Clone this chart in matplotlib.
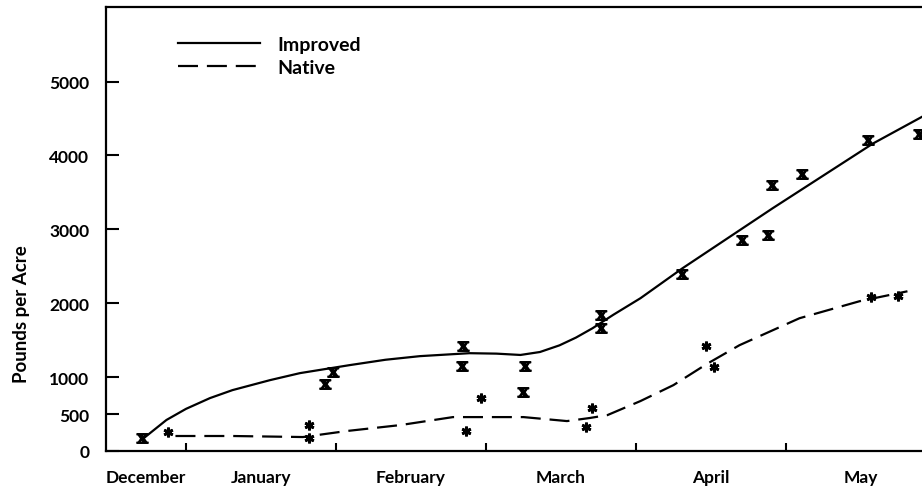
import matplotlib
matplotlib.use("Agg")
import matplotlib.pyplot as plt
from matplotlib.lines import Line2D

plt.rcParams['font.family'] = ['Lato', 'DejaVu Sans']
plt.rcParams['font.weight'] = 'bold'
plt.rcParams['mathtext.fontset'] = 'dejavuserif'

# Month axis: 1 = Jan 1, 2 = Feb 1, ... (December partly visible)
month_labels = ["December", "January", "February", "March", "April", "May"]
month_label_pos = [0.733, 1.5, 2.5, 3.5, 4.5, 5.5]
month_bounds = [1, 2, 3, 4, 5]

# Improved pasture observations (x markers)
improved_m = [0.71, 1.93, 1.98, 2.85, 2.84, 3.26, 3.25, 3.77, 3.77, 4.31, 4.71, 4.88, 4.91, 5.11, 5.55, 5.89]
improved_v = [176, 905, 1067, 1418, 1148, 1148, 797, 1837, 1662, 2391, 2851, 2918, 3594, 3756, 4215, 4296]

# Native pasture observations (asterisks)
native_m = [0.88, 1.82, 1.82, 2.97, 2.87, 3.71, 3.67, 4.47, 4.52, 5.57, 5.75]
native_v = [257, 351, 176, 716, 270, 581, 324, 1418, 1135, 2080, 2094]

# Fitted curves
improved_curve_m = [0.72, 0.79, 0.87, 1.0, 1.16, 1.31, 1.56, 1.76, 2.09, 2.33, 2.56, 2.89, 3.07, 3.23,
                    3.36, 3.49, 3.6, 3.71, 3.85, 4.03, 4.31, 4.91, 5.58, 5.91]
improved_curve_v = [176, 290, 420, 570, 716, 824, 959, 1054, 1162, 1235, 1284, 1324, 1318, 1300,
                    1340, 1430, 1535, 1661, 1845, 2068, 2473, 3284, 4162, 4527]

native_curve_m = [0.93, 1.31, 1.78, 2.07, 2.43, 2.78, 2.98, 3.25, 3.54, 3.69, 3.81, 4.03, 4.25, 4.47,
                  4.69, 5.09, 5.49, 5.81]
native_curve_v = [203, 203, 189, 270, 351, 459, 459, 459, 405, 446, 486, 676, 892, 1175,
                  1432, 1797, 2027, 2162]

yticks = [0, 500, 1000, 2000, 3000, 4000, 5000]

W, H = 922, 489
fig = plt.figure(figsize=(W / 100, H / 100), dpi=100)
ax = fig.add_axes([106 / W, 37 / H, 1 - 106 / W, (452 - 8) / H])

ax.plot(improved_curve_m, improved_curve_v, color='black', lw=1.6, solid_capstyle='butt',
        solid_joinstyle='round')
ax.plot(native_curve_m, native_curve_v, color='black', lw=1.6, linestyle=(0, (9, 4)))

ax.plot(improved_m, improved_v, linestyle='none', marker=r'$\mathbf{x}$', color='black',
        markersize=8)
ax.plot(native_m, native_v, linestyle='none', marker=(6, 2, 0), color='black',
        markersize=7, markeredgewidth=2)

ax.set_xticks(month_bounds)
ax.set_xticklabels([])
ax.set_xticks(month_label_pos, minor=True)
ax.set_xticklabels(month_labels, minor=True)
ax.tick_params(axis='x', which='major', direction='in', length=6, width=1.5)
ax.tick_params(axis='x', which='minor', length=0, pad=13, labelsize=12.5)

ax.set_yticks(yticks)
ax.set_yticklabels([str(v) for v in yticks])
ax.tick_params(axis='y', direction='in', length=9, width=1.5, pad=12, labelsize=12.5)

ax.set_xlim(0.467, 5.907)
ax.set_ylim(0, 6010)

for s in ['left', 'bottom', 'top']:
    ax.spines[s].set_linewidth(1.6)
ax.spines['right'].set_visible(False)

fig.text(22 / W, 1 - 314 / H, "Pounds per Acre", rotation=90, ha='center', va='center',
         fontsize=13.5)

handles = [Line2D([], [], color='black', lw=1.6),
           Line2D([], [], color='black', lw=1.6, linestyle=(0, (9, 4)))]
ax.legend(handles, ["Improved", "Native"], loc='upper left', frameon=False,
          bbox_to_anchor=(178 / W, 1 - 37 / H), bbox_transform=fig.transFigure,
          borderpad=0, borderaxespad=0, handlelength=4.2, handletextpad=0.9,
          labelspacing=0.3, prop={'size': 14, 'weight': 'bold'})

fig.savefig("out.png", dpi=100)
